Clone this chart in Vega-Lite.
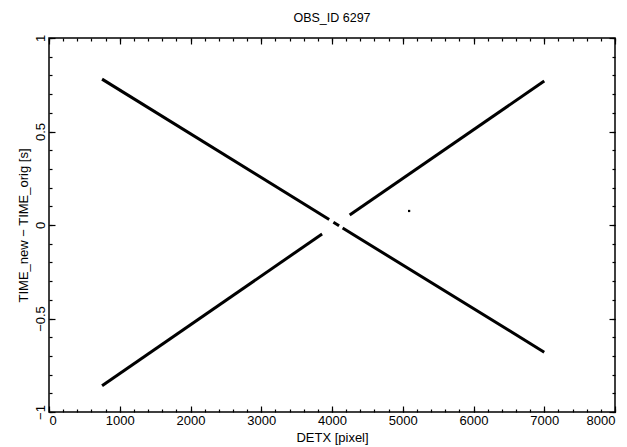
{
  "$schema": "https://vega.github.io/schema/vega-lite/v6.json",
  "width": 566,
  "height": 374,
  "autosize": {"type": "none"},
  "padding": {"left": 49, "top": 38, "right": 12, "bottom": 35},
  "background": "white",
  "config": {
    "font": "Liberation Sans",
    "view": {"stroke": "black", "strokeWidth": 1.5},
    "axis": {"domain": false, "grid": false, "tickColor": "black", "labelColor": "black", "titleColor": "black", "labelFont": "Liberation Sans", "titleFont": "Liberation Sans", "labelFontSize": 13, "titleFontSize": 13, "titleFontWeight": "normal", "tickWidth": 1.2}
  },
  "title": {"text": "OBS_ID 6297", "fontSize": 12.5, "fontWeight": "normal", "font": "Liberation Sans", "color": "black", "offset": 10, "anchor": "middle"},
  "datasets": {
    "lines": [
      {"seg": "d1", "detx": 750, "dt": 0.78},
      {"seg": "d1", "detx": 3960, "dt": 0.029},
      {"seg": "d2", "detx": 4020, "dt": 0.015},
      {"seg": "d2", "detx": 4100, "dt": -0.004},
      {"seg": "d3", "detx": 4150, "dt": -0.016},
      {"seg": "d3", "detx": 7000, "dt": -0.68},
      {"seg": "a1", "detx": 750, "dt": -0.86},
      {"seg": "a1", "detx": 3860, "dt": -0.048},
      {"seg": "a2", "detx": 4250, "dt": 0.054},
      {"seg": "a2", "detx": 7000, "dt": 0.77}
    ],
    "dot": [
      {"detx": 5090, "dt": 0.075}
    ]
  },
  "resolve": {"axis": {"x": "independent", "y": "independent"}},
  "layer": [
    {
      "data": {"name": "lines"},
      "mark": {"type": "line", "color": "black", "strokeWidth": 3, "strokeCap": "butt"},
      "encoding": {
        "x": {"field": "detx", "type": "quantitative", "scale": {"domain": [0, 8000], "nice": false, "zero": false},
              "axis": {"orient": "bottom", "title": "DETX [pixel]", "format": "d", "values": [0,1000,2000,3000,4000,5000,6000,7000,8000], "tickSize": -6, "labelPadding": 8, "titlePadding": 4}},
        "y": {"field": "dt", "type": "quantitative", "scale": {"domain": [-1, 1], "nice": false, "zero": false},
              "axis": {"orient": "left", "title": "TIME_new − TIME_orig [s]", "format": ".1~f", "values": [-1,-0.5,0,0.5,1], "tickSize": -6, "labelAngle": -90, "labelPadding": 8, "titlePadding": 4}},
        "detail": {"field": "seg"}
      }
    },
    {
      "data": {"name": "dot"},
      "mark": {"type": "square", "color": "black", "size": 5, "opacity": 1},
      "encoding": {
        "x": {"field": "detx", "type": "quantitative", "scale": {"domain": [0, 8000], "nice": false, "zero": false},
              "axis": {"orient": "bottom", "title": null, "labels": false, "tickSize": -3, "values": [0,200,400,600,800,1000,1200,1400,1600,1800,2000,2200,2400,2600,2800,3000,3200,3400,3600,3800,4000,4200,4400,4600,4800,5000,5200,5400,5600,5800,6000,6200,6400,6600,6800,7000,7200,7400,7600,7800,8000]}},
        "y": {"field": "dt", "type": "quantitative", "scale": {"domain": [-1, 1], "nice": false, "zero": false},
              "axis": {"orient": "left", "title": null, "labels": false, "tickSize": -3, "values": [-1,-0.9,-0.8,-0.7,-0.6,-0.5,-0.4,-0.3,-0.2,-0.1,0,0.1,0.2,0.3,0.4,0.5,0.6,0.7,0.8,0.9,1]}}
      }
    },
    {
      "data": {"name": "dot"},
      "mark": {"type": "point", "opacity": 0},
      "encoding": {
        "x": {"field": "detx", "type": "quantitative", "scale": {"domain": [0, 8000], "nice": false, "zero": false},
              "axis": {"orient": "top", "title": null, "labels": false, "tickSize": -6, "values": [0,1000,2000,3000,4000,5000,6000,7000,8000]}},
        "y": {"field": "dt", "type": "quantitative", "scale": {"domain": [-1, 1], "nice": false, "zero": false},
              "axis": {"orient": "right", "title": null, "labels": false, "tickSize": -6, "values": [-1,-0.5,0,0.5,1]}}
      }
    },
    {
      "data": {"name": "dot"},
      "mark": {"type": "point", "opacity": 0},
      "encoding": {
        "x": {"field": "detx", "type": "quantitative", "scale": {"domain": [0, 8000], "nice": false, "zero": false},
              "axis": {"orient": "top", "title": null, "labels": false, "tickSize": -3, "values": [0,200,400,600,800,1000,1200,1400,1600,1800,2000,2200,2400,2600,2800,3000,3200,3400,3600,3800,4000,4200,4400,4600,4800,5000,5200,5400,5600,5800,6000,6200,6400,6600,6800,7000,7200,7400,7600,7800,8000]}},
        "y": {"field": "dt", "type": "quantitative", "scale": {"domain": [-1, 1], "nice": false, "zero": false},
              "axis": {"orient": "right", "title": null, "labels": false, "tickSize": -3, "values": [-1,-0.9,-0.8,-0.7,-0.6,-0.5,-0.4,-0.3,-0.2,-0.1,0,0.1,0.2,0.3,0.4,0.5,0.6,0.7,0.8,0.9,1]}}
      }
    }
  ]
}
